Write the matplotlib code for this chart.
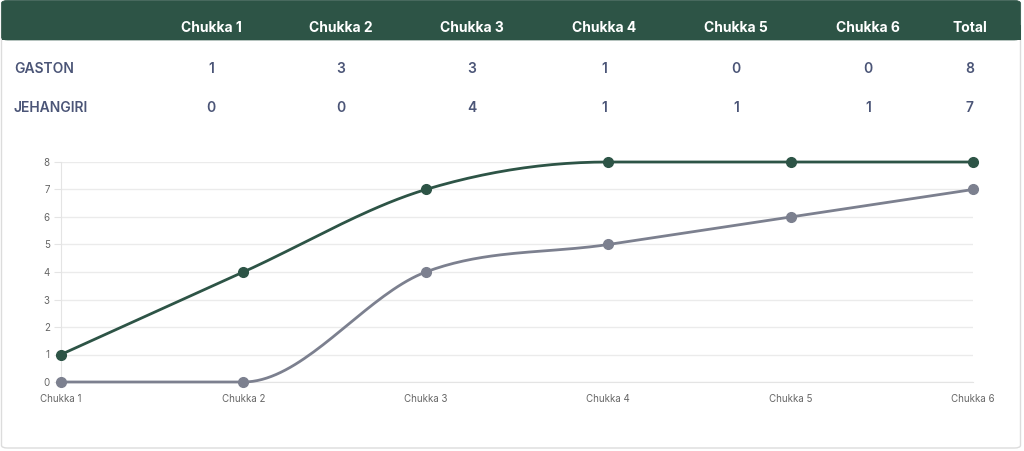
import numpy as np
import matplotlib.pyplot as plt
from matplotlib.patches import FancyBboxPatch, Rectangle

# table data
columns = ["Chukka 1", "Chukka 2", "Chukka 3", "Chukka 4", "Chukka 5", "Chukka 6", "Total"]
players = ["GASTON", "JEHANGIRI"]
gaston_goals = [1, 3, 3, 1, 0, 0, 8]
jehangiri_goals = [0, 0, 4, 1, 1, 1, 7]

# chart data (cumulative score)
chukkas = ["Chukka 1", "Chukka 2", "Chukka 3", "Chukka 4", "Chukka 5", "Chukka 6"]
gaston_cum = [1, 4, 7, 8, 8, 8]
jehangiri_cum = [0, 0, 4, 5, 6, 7]

GREEN = "#2d5446"
GREY_LINE = "#7c808f"
TEXT = "#4b5577"

plt.rcParams['font.family'] = ['Inter', 'DejaVu Sans']

W, H = 1024, 451
fig = plt.figure(figsize=(W / 100, H / 100), dpi=100)


def fx(px):
    return px / W


def fy(py):
    return 1 - py / H


# card with border, kept behind the axes
card = FancyBboxPatch((fx(1.5), fy(448)), fx(1019), fy(1) - fy(448),
                      boxstyle="round,pad=0,rounding_size=0.006",
                      transform=fig.transFigure, facecolor="white",
                      edgecolor="#dcdcdc", linewidth=1.0, zorder=-3)
fig.patches.append(card)
header = FancyBboxPatch((fx(1.5), fy(40)), fx(1019), fy(0.5) - fy(40),
                        boxstyle="round,pad=0,rounding_size=0.006",
                        transform=fig.transFigure, facecolor=GREEN,
                        edgecolor=GREEN, linewidth=0.5, zorder=-2)
fig.patches.append(header)
fig.patches.append(Rectangle((fx(1.5), fy(40)), fx(1019), fy(25) - fy(40),
                             transform=fig.transFigure, facecolor=GREEN,
                             edgecolor="none", zorder=-2))

col_x = [211, 341, 472, 604, 736, 868, 970]
for cx, name in zip(col_x, columns):
    fig.text(fx(cx), fy(28), name, ha="center", va="center", color="white",
             fontsize=10, fontweight="bold")

row_y = [69, 108]
for ry, name, vals in zip(row_y, players, [gaston_goals, jehangiri_goals]):
    fig.text(fx(14), fy(ry), name, ha="left", va="center", color=TEXT,
             fontsize=10, fontweight="semibold")
    for cx, v in zip(col_x, vals):
        fig.text(fx(cx), fy(ry), str(v), ha="center", va="center", color=TEXT,
                 fontsize=10, fontweight="semibold")


def monotone(xs, ys, n=40):
    # Chart.js style monotone cubic (Fritsch-Carlson)
    xs = np.asarray(xs, float)
    ys = np.asarray(ys, float)
    k = len(xs)
    d = np.diff(ys) / np.diff(xs)
    m = np.zeros(k)
    m[0] = d[0]
    m[-1] = d[-1]
    for i in range(1, k - 1):
        if d[i - 1] * d[i] <= 0:
            m[i] = 0
        else:
            m[i] = (d[i - 1] + d[i]) / 2
    for i in range(k - 1):
        if d[i] == 0:
            m[i] = m[i + 1] = 0
            continue
        a = m[i] / d[i]
        b = m[i + 1] / d[i]
        s = a * a + b * b
        if s > 9:
            t = 3 / np.sqrt(s)
            m[i] = t * a * d[i]
            m[i + 1] = t * b * d[i]
    px, py = [], []
    for i in range(k - 1):
        h = xs[i + 1] - xs[i]
        t = np.linspace(0, 1, n)
        h00 = 2 * t**3 - 3 * t**2 + 1
        h10 = t**3 - 2 * t**2 + t
        h01 = -2 * t**3 + 3 * t**2
        h11 = t**3 - t**2
        px.extend(xs[i] + t * h)
        py.extend(h00 * ys[i] + h10 * h * m[i] + h01 * ys[i + 1] + h11 * h * m[i + 1])
    return np.array(px), np.array(py)


ax = fig.add_axes([fx(61), fy(382), fx(973) - fx(61), fy(162) - fy(382)])
ax.set_facecolor("none")
x = np.arange(len(chukkas))
for series, col, z in [(jehangiri_cum, GREY_LINE, 3), (gaston_cum, GREEN, 4)]:
    sx, sy = monotone(x, series)
    ax.plot(sx, sy, color=col, lw=2, zorder=z, clip_on=False, solid_capstyle="round")
    ax.plot(x, series, "o", color=col, ms=7, zorder=z, clip_on=False)

ax.set_xlim(0, len(chukkas) - 1)
ax.set_ylim(0, 8)
ax.set_yticks(range(0, 9))
ax.set_xticks(x)
ax.set_xticklabels(chukkas)
ax.grid(axis="y", color="#ebebeb", lw=1)
ax.set_axisbelow(True)
for s in ["top", "right"]:
    ax.spines[s].set_visible(False)
ax.spines["left"].set_color("#e4e4e4")
ax.spines["bottom"].set_color("#e4e4e4")
ax.tick_params(axis="y", colors="#e4e4e4", labelcolor="#666666", labelsize=7,
               length=5, pad=3)
ax.tick_params(axis="x", length=0, labelcolor="#666666", labelsize=7, pad=9)

fig.savefig("out.png", dpi=100)
